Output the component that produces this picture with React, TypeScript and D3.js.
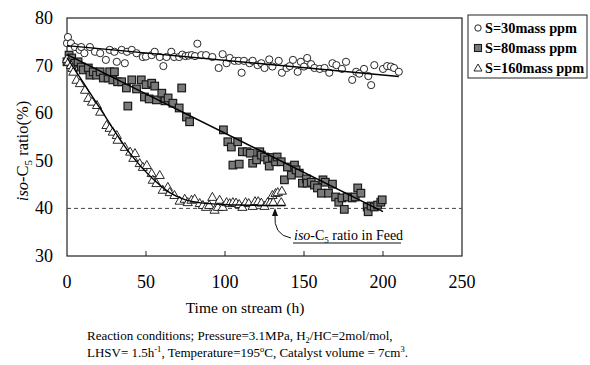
import React from 'react';
import * as d3 from 'd3';

// time on stream (h), iso-C5 ratio (%)
const s30Points: [number, number][] = [
  [0, 74.7], [0.6, 76.0], [2.5, 74.7], [5, 73.9], [8, 73.3], [9, 73.9], [11, 72.6], [14.5, 73.9],
  [17.7, 72.9], [21, 72.6], [24.6, 71.2], [27, 73.3], [30, 72.9], [31.5, 70.8], [34.6, 73.3],
  [36.6, 70.5], [38, 72.9], [41, 73.3], [44, 72.6], [48, 71.8], [50, 71.9], [53.6, 72.2],
  [55.5, 72.9], [58.7, 71.8], [61, 69.9], [63, 71.8], [66, 72.9], [67.8, 71.8], [71, 71.8],
  [73, 72.3], [75, 72.0], [77, 72.1], [79, 72.2], [81, 72.0], [82.5, 74.6], [85, 72.2], [88, 72.2],
  [92, 71.8], [96, 69.5], [98.5, 72.4], [101, 70.5], [103, 71.6], [106, 71.0], [108.6, 71.0],
  [110.5, 68.5], [112, 71.0], [115.5, 70.5], [117.5, 71.0], [120.6, 70.1], [123, 70.5], [125, 69.5],
  [128, 71.3], [130, 69.8], [134, 71.0], [136, 68.5], [139, 69.5], [141, 69.9], [143, 71.2],
  [146, 68.7], [148, 70.8], [150, 69.8], [152, 71.6], [154.5, 70.3], [156.6, 69.5], [160, 69.3],
  [163, 69.5], [166, 68.5], [168, 70.5], [170.5, 70.1], [174, 69.3], [176.6, 70.8], [180.5, 67.0],
  [183, 68.7], [185, 68.3], [188, 69.3], [190.7, 67.8], [192.5, 65.9], [194.5, 70.1], [200, 69.3],
  [202.6, 69.9], [205, 69.8], [207, 69.5], [210, 68.7],
];

const s80Points: [number, number][] = [
  [0, 70.8], [1.3, 72.2], [3, 71.6], [5, 70.5], [7, 70.8], [9, 69.7], [10.3, 69.1], [13.5, 69.5],
  [14.5, 68.0], [16.6, 68.7], [18.7, 68.0], [21, 68.7], [23, 67.4], [26, 67.4], [27, 68.7], [29, 67.0],
  [30, 68.7], [32, 66.6], [34.6, 66.6], [37.6, 65.3], [38.5, 61.5], [41, 67.0], [44, 65.1], [47, 67.0],
  [49, 63.4], [50, 66.0], [52, 63.0], [53.6, 66.3], [55.5, 65.7], [56.6, 62.8], [60, 64.2], [62, 62.6],
  [64, 63.2], [67, 62.1], [71, 61.1], [72.6, 65.3], [75.6, 59.2], [77.6, 58.2], [99, 56.5],
  [101.8, 54.0], [104, 52.9], [105, 49.1], [108, 54.0], [109, 49.3], [111, 51.9], [114, 51.9],
  [116, 51.6], [117.5, 49.5], [120, 50.2], [122, 51.9], [123, 51.2], [125, 50.8], [127, 50.2],
  [128, 48.9], [130, 50.7], [132, 49.8], [133, 50.8], [135.6, 49.8], [137.6, 46.0], [139.5, 48.7],
  [142, 47.0], [144, 49.1], [145, 48.1], [147, 47.4], [149, 45.3], [151.5, 46.2], [152, 45.3],
  [154.6, 45.5], [156.6, 44.9], [158.5, 44.3], [161, 43.2], [162, 46.0], [163.5, 45.5], [165.5, 43.2],
  [168, 45.1], [170, 42.4], [172, 41.3], [174, 42.2], [175.5, 39.8], [177.4, 42.4], [180.5, 42.2],
  [182.4, 42.4], [184, 44.3], [186, 43.2], [190, 40.3], [190.6, 39.3], [192.5, 40.5], [194.5, 40.3],
  [196.6, 40.7], [198.6, 41.3], [199.5, 41.8],
];

const s160Points: [number, number][] = [
  [0, 71.4], [1, 70.8], [2.5, 70.1], [3.5, 69.5], [4, 68.7], [6, 67.0], [8.2, 66.3], [11.4, 64.9],
  [13.5, 63.2], [15.8, 62.4], [19, 61.7], [21, 60.3], [25, 57.5], [27, 56.9], [29, 56.1], [31.5, 55.4],
  [32, 54.4], [36.6, 52.9], [40, 51.9], [42, 50.6], [43, 51.6], [46, 49.5], [48, 48.7], [50.5, 49.1],
  [53.6, 47.4], [54.3, 46.0], [56.6, 45.3], [58.7, 47.0], [60.6, 43.9], [63.8, 44.5], [65, 43.4],
  [68, 42.8], [71.3, 41.6], [74.5, 42.0], [76.4, 41.3], [78.8, 41.8], [80.8, 42.0], [84, 41.1],
  [86, 40.7], [88, 40.3], [90, 40.7], [92, 42.4], [93.4, 39.7], [95.5, 40.3], [96.6, 41.8],
  [98.6, 40.3], [101, 41.3], [103, 41.1], [105, 41.3], [107, 41.2], [109, 40.9], [111, 40.3],
  [113, 41.3], [115, 41.1], [117.5, 40.5], [119, 41.5], [121, 41.5], [123, 41.2], [125, 40.5],
  [127, 41.3], [128.6, 41.3], [130, 42.8], [130.5, 41.3], [132, 43.2], [133.4, 43.4], [135.6, 41.3],
  [136, 43.7],
];

// fitted trend lines
const s30Fit: [number, number][] = [[0, 74.2], [210, 67.7]];
const s80Fit: [number, number][] = [[0, 72.3], [200, 39.3]];
const s160Fit: [number, number][] = [
  [0, 71.7], [20, 61.5], [40, 51.5], [55, 46], [65, 43.3], [75, 41.8], [90, 41], [110, 40.7], [138, 40.6],
];

const feedRatio = 40;
const xTicks = [0, 50, 100, 150, 200, 250];
const yTicks = [30, 40, 50, 60, 70, 80];
const legendLabels = ['S=30mass ppm', 'S=80mass ppm', 'S=160mass ppm'];

const W = 590;
const H = 365;
const FONT = "'Liberation Serif', 'Times New Roman', Times, serif";

const x = d3.scaleLinear().domain([0, 250]).range([67, 462]);
const y = d3.scaleLinear().domain([30, 80]).range([256, 18]);

const line = d3.line<[number, number]>().x(d => x(d[0])).y(d => y(d[1]));
const curve = d3.line<[number, number]>().x(d => x(d[0])).y(d => y(d[1])).curve(d3.curveMonotoneX);

const Circle = ({ cx, cy }: { cx: number; cy: number }) => (
  <circle cx={cx} cy={cy} r={3.6} fill="white" stroke="#111" strokeWidth={0.9} />
);
const Square = ({ cx, cy }: { cx: number; cy: number }) => (
  <rect x={cx - 3.8} y={cy - 3.8} width={7.6} height={7.6} fill="#7a7a7a" stroke="#1a1a1a" strokeWidth={1.2} />
);
const Triangle = ({ cx, cy }: { cx: number; cy: number }) => (
  <path d={`M${cx},${cy - 4.6} L${cx + 4.6},${cy + 3.4} L${cx - 4.6},${cy + 3.4} Z`} fill="white" stroke="#111" strokeWidth={0.9} />
);

export default function App() {
  const [x0, x1] = x.range();
  const [yb, yt] = y.range();

  return (
    <svg width={W} height={H} style={{ position: 'absolute', left: 0, top: 0, background: 'white', fontFamily: FONT }}>
      {/* plot frame */}
      <rect x={x0} y={yt} width={x1 - x0} height={yb - yt} fill="none" stroke="#222" strokeWidth={1.2} />

      {/* x ticks (inside) and labels */}
      {xTicks.map(t => (
        <g key={t}>
          {t > 0 && t < 250 && <line x1={x(t)} x2={x(t)} y1={yb} y2={yb - 5} stroke="#222" strokeWidth={1} />}
          <text x={x(t)} y={288} fontSize={18} textAnchor="middle">{t}</text>
        </g>
      ))}
      {yTicks.map(v => (
        <text key={v} x={53} y={y(v) + 6} fontSize={18} textAnchor="end">{v}</text>
      ))}

      {/* axis titles */}
      <text x={245} y={313} fontSize={15.5} textAnchor="middle">Time on stream (h)</text>
      <text transform="translate(28,151) rotate(-90)" fontSize={16.5} textAnchor="middle">
        <tspan fontStyle="italic">iso</tspan>-C<tspan fontSize={11} dy={4}>5</tspan>
        <tspan dy={-4}> ratio(%)</tspan>
      </text>

      {/* feed ratio */}
      <line x1={x0} x2={x1} y1={y(feedRatio)} y2={y(feedRatio)} stroke="#444" strokeWidth={1} strokeDasharray="4,3" />

      {/* markers */}
      {s30Points.map((d, i) => <Circle key={'a' + i} cx={x(d[0])} cy={y(d[1])} />)}
      {s80Points.map((d, i) => <Square key={'b' + i} cx={x(d[0])} cy={y(d[1])} />)}
      {s160Points.map((d, i) => <Triangle key={'c' + i} cx={x(d[0])} cy={y(d[1])} />)}

      {/* fit lines */}
      <path d={line(s30Fit) || ''} fill="none" stroke="#000" strokeWidth={1.4} />
      <path d={line(s80Fit) || ''} fill="none" stroke="#000" strokeWidth={1.4} />
      <path d={curve(s160Fit) || ''} fill="none" stroke="#000" strokeWidth={1.4} />

      {/* annotation */}
      <path d="M291,238 Q273,235 275,214" fill="none" stroke="#111" strokeWidth={1} />
      <path d="M275,208 L278,216 L272,216 Z" fill="#111" />
      <text x={294} y={240} fontSize={14}>
        <tspan fontStyle="italic">iso</tspan>-C<tspan fontSize={9} dy={3}>5</tspan>
        <tspan dy={-3}> ratio in Feed</tspan>
      </text>
      <line x1={293} x2={401} y1={243} y2={243} stroke="#111" strokeWidth={1} />

      {/* legend */}
      <rect x={468} y={15} width={119} height={63} fill="white" stroke="#222" strokeWidth={1} />
      {legendLabels.map((lab, i) => {
        const cy = 28 + i * 20;
        return (
          <g key={lab}>
            {i === 0 && <circle cx={478} cy={cy} r={3.2} fill="white" stroke="#111" strokeWidth={0.9} />}
            {i === 1 && <rect x={474.5} y={cy - 3.5} width={7} height={7} fill="#7a7a7a" stroke="#1a1a1a" strokeWidth={1.1} />}
            {i === 2 && <path d={`M478,${cy - 4} L482,${cy + 3} L474,${cy + 3} Z`} fill="white" stroke="#111" strokeWidth={0.9} />}
            <text x={485} y={cy + 5} fontSize={14.3} fontWeight="bold">{lab}</text>
          </g>
        );
      })}

      {/* caption */}
      <text x={87} y={340} fontSize={13}>
        Reaction conditions; Pressure=3.1MPa, H<tspan fontSize={8.5} dy={3}>2</tspan>
        <tspan dy={-3}>/HC=2mol/mol,</tspan>
      </text>
      <text x={87} y={357} fontSize={13}>
        LHSV= 1.5h<tspan fontSize={8.5} dy={-5}>-1</tspan>
        <tspan dy={5}>, Temperature=195</tspan>
        <tspan fontSize={8.5} dy={-5}>o</tspan>
        <tspan dy={5}>C, Catalyst volume = 7cm</tspan>
        <tspan fontSize={8.5} dy={-5}>3</tspan>
        <tspan dy={5}>.</tspan>
      </text>
    </svg>
  );
}
